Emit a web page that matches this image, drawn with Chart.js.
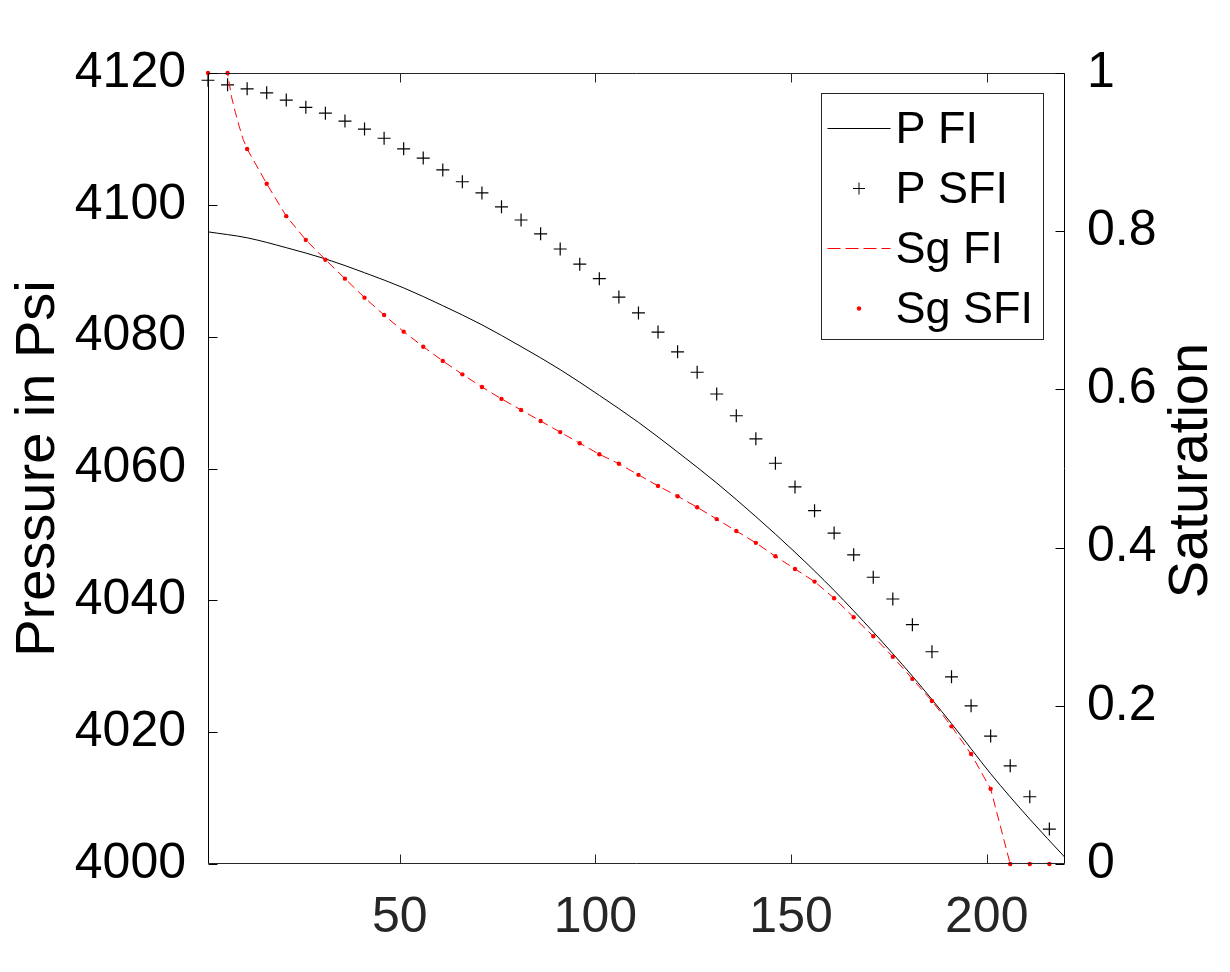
<!DOCTYPE html>
<html>
<head>
<meta charset="utf-8">
<title>Pressure and saturation</title>
<script src="https://cdn.jsdelivr.net/npm/chart.js@4.4.1/dist/chart.umd.min.js"></script>
<style>
html, body { margin: 0; padding: 0; background: #fff; }
#chart { display: block; }
</style>
</head>
<body>
<canvas id="chart" width="1230" height="972"></canvas>
<script>
// SFI results are saved every 5 steps
var sfiX = [1, 6, 11, 16, 21, 26, 31, 36, 41, 46, 51, 56, 61, 66, 71, 76, 81, 86, 91, 96,
	101, 106, 111, 116, 121, 126, 131, 136, 141, 146, 151, 156, 161, 166, 171, 176, 181, 186, 191, 196,
	201, 206, 211, 216];
var pSfi = [4118.9, 4118.2, 4117.6, 4117.0, 4115.9, 4114.8, 4113.9, 4112.7, 4111.5, 4110.1,
	4108.5, 4107.1, 4105.3, 4103.5, 4101.8, 4099.7, 4097.7, 4095.6, 4093.3, 4091.0,
	4088.8, 4086.0, 4083.6, 4080.7, 4077.7, 4074.6, 4071.3, 4068.0, 4064.5, 4060.8,
	4057.2, 4053.6, 4050.2, 4046.9, 4043.5, 4040.2, 4036.3, 4032.2, 4028.4, 4024.0,
	4019.4, 4014.9, 4010.2, 4005.3];
var sgSfi = [1, 1, 0.904, 0.860, 0.819, 0.789, 0.764, 0.740, 0.716, 0.694,
	0.673, 0.654, 0.636, 0.619, 0.603, 0.588, 0.574, 0.560, 0.546, 0.532,
	0.518, 0.506, 0.492, 0.478, 0.465, 0.451, 0.436, 0.421, 0.406, 0.389,
	0.373, 0.357, 0.336, 0.312, 0.288, 0.262, 0.234, 0.206, 0.174, 0.139,
	0.095, 0, 0, 0];

// fully implicit run
var pFiX = [1, 11, 21, 31, 41, 51, 61, 71, 81, 91, 101, 111, 121, 131, 141, 151, 161, 171, 181, 191, 201, 211, 220];
var pFi = [4095.9, 4095.0, 4093.5, 4091.8, 4089.7, 4087.4, 4084.7, 4081.8, 4078.5, 4075.0,
	4071.1, 4067.0, 4062.5, 4057.8, 4052.7, 4047.3, 4041.5, 4035.2, 4028.5, 4021.3,
	4013.7, 4006.8, 4001.0];
var sgFiX = [1, 6, 7, 8, 9, 10, 11, 16, 21, 26, 31, 36, 41, 46, 51, 56, 61, 66, 71, 76, 81, 86, 91, 96,
	101, 106, 111, 116, 121, 126, 131, 136, 141, 146, 151, 156, 161, 166, 171, 176, 181, 186, 191, 196,
	201, 206, 211, 216, 220];
var sgFi = [1, 1, 0.97, 0.95, 0.932, 0.916, 0.904, 0.860, 0.819, 0.789, 0.764, 0.740, 0.716, 0.694,
	0.673, 0.654, 0.636, 0.619, 0.603, 0.588, 0.574, 0.560, 0.546, 0.532,
	0.518, 0.506, 0.492, 0.478, 0.465, 0.451, 0.436, 0.421, 0.406, 0.389,
	0.373, 0.357, 0.336, 0.312, 0.288, 0.262, 0.234, 0.206, 0.174, 0.139,
	0.095, 0, 0, 0, 0];

var xTicks = [50, 100, 150, 200];
var pTicks = [4000, 4020, 4040, 4060, 4080, 4100, 4120];
var satTicks = [0, 0.2, 0.4, 0.6, 0.8, 1];
var legendNames = ['P FI', 'P SFI', 'Sg FI', 'Sg SFI'];

var FONT = "'Liberation Sans', Arial, Helvetica, sans-serif";

function toPoints(xs, ys) {
	var out = [];
	for (var i = 0; i < xs.length; i++) {
		out.push({ x: xs[i], y: ys[i] });
	}
	return out;
}

function fixedTicks(list) {
	return function(scale) {
		scale.ticks = list.map(function(v) { return { value: v }; });
	};
}

// box, inward tick marks, right label and legend like the matlab figure
var figurePlugin = {
	id: 'figure',
	afterDatasetsDraw: function(chart) {
		var ctx = chart.ctx;
		var a = chart.chartArea;
		var sx = chart.scales.x, sp = chart.scales.p, ss = chart.scales.s;
		var L = Math.round(a.left) + 0.5, R = Math.round(a.right) - 0.5;
		var T = Math.round(a.top) + 0.5, B = Math.round(a.bottom) - 0.5;
		var tl = 9;
		ctx.save();
		ctx.lineWidth = 1;

		ctx.strokeStyle = '#262626';
		ctx.beginPath();
		ctx.moveTo(L, T); ctx.lineTo(R, T);
		ctx.moveTo(L, B); ctx.lineTo(R, B);
		xTicks.forEach(function(v) {
			var px = Math.round(sx.getPixelForValue(v)) + 0.5;
			ctx.moveTo(px, B); ctx.lineTo(px, B - tl);
			ctx.moveTo(px, T); ctx.lineTo(px, T + tl);
		});
		ctx.stroke();

		ctx.strokeStyle = '#000';
		ctx.beginPath();
		ctx.moveTo(L, T); ctx.lineTo(L, B);
		ctx.moveTo(R, T); ctx.lineTo(R, B);
		pTicks.forEach(function(v) {
			var py = Math.round(sp.getPixelForValue(v)) + 0.5;
			ctx.moveTo(L, py); ctx.lineTo(L + tl, py);
		});
		satTicks.forEach(function(v) {
			var py = Math.round(ss.getPixelForValue(v)) + 0.5;
			ctx.moveTo(R, py); ctx.lineTo(R - tl, py);
		});
		ctx.stroke();
		ctx.restore();
	},
	afterDraw: function(chart) {
		var ctx = chart.ctx;
		var a = chart.chartArea;
		ctx.save();

		// right axis label reads bottom to top, same as the left one
		ctx.translate(a.right + 127, (a.top + a.bottom) / 2 + 2);
		ctx.rotate(-Math.PI / 2);
		ctx.fillStyle = '#000';
		ctx.font = '56px ' + FONT;
		ctx.textAlign = 'center';
		ctx.textBaseline = 'middle';
		ctx.fillText('Saturation', 0, 0);
		ctx.setTransform(1, 0, 0, 1, 0, 0);

		// legend box
		var bx = Math.round(a.right) - 244 + 0.5;
		var by = Math.round(a.top) + 20 + 0.5;
		var bw = 222, bh = 246;
		ctx.fillStyle = '#fff';
		ctx.fillRect(bx, by, bw, bh);
		ctx.strokeStyle = '#262626';
		ctx.lineWidth = 1;
		ctx.strokeRect(bx, by, bw, bh);

		ctx.font = '45px ' + FONT;
		ctx.textAlign = 'left';
		ctx.textBaseline = 'middle';
		for (var i = 0; i < legendNames.length; i++) {
			var ry = Math.round(by + 34 + i * 60.2) + 0.5;
			var x0 = bx + 6, x1 = bx + 69, xm = (x0 + x1) / 2;
			ctx.beginPath();
			if (i === 0) {
				ctx.strokeStyle = '#000';
				ctx.moveTo(x0, ry); ctx.lineTo(x1, ry);
				ctx.stroke();
			} else if (i === 1) {
				ctx.strokeStyle = '#000';
				ctx.moveTo(xm - 6, ry); ctx.lineTo(xm + 6, ry);
				ctx.moveTo(xm, ry - 6); ctx.lineTo(xm, ry + 6);
				ctx.stroke();
			} else if (i === 2) {
				ctx.strokeStyle = '#ff0000';
				ctx.setLineDash([13, 5]);
				ctx.moveTo(x0, ry); ctx.lineTo(x1, ry);
				ctx.stroke();
				ctx.setLineDash([]);
			} else {
				ctx.fillStyle = '#ff0000';
				ctx.arc(xm, ry, 2.2, 0, Math.PI * 2);
				ctx.fill();
			}
			ctx.fillStyle = '#000';
			ctx.fillText(legendNames[i], bx + 74, ry + 2.5);
		}
		ctx.restore();
	}
};

var ctx = document.getElementById('chart');
var chart = new Chart(ctx, {
	type: 'line',
	data: {
		datasets: [{
			label: 'Sg SFI',
			data: toPoints(sfiX, sgSfi),
			yAxisID: 's',
			showLine: false,
			pointStyle: 'circle',
			pointRadius: 2.2,
			pointBackgroundColor: '#ff0000',
			pointBorderWidth: 0,
			borderColor: '#ff0000',
			clip: 8
		}, {
			label: 'Sg FI',
			data: toPoints(sgFiX, sgFi),
			yAxisID: 's',
			borderColor: '#ff0000',
			borderWidth: 1,
			borderDash: [9, 5],
			pointRadius: 0,
			tension: 0
		}, {
			label: 'P SFI',
			data: toPoints(sfiX, pSfi),
			yAxisID: 'p',
			showLine: false,
			pointStyle: 'cross',
			pointRadius: 6.5,
			pointBorderColor: '#000',
			pointBorderWidth: 1.2,
			borderColor: '#000',
			clip: 10
		}, {
			label: 'P FI',
			data: toPoints(pFiX, pFi),
			yAxisID: 'p',
			borderColor: '#000',
			borderWidth: 1,
			pointRadius: 0,
			cubicInterpolationMode: 'monotone'
		}]
	},
	options: {
		responsive: false,
		animation: false,
		devicePixelRatio: 1,
		events: [],
		layout: { padding: { top: 73, left: 0, right: 0, bottom: 0 } },
		scales: {
			x: {
				type: 'linear',
				min: 1,
				max: 220,
				afterBuildTicks: fixedTicks(xTicks),
				afterFit: function(scale) { scale.height = 108; },
				grid: { display: false },
				border: { display: false },
				ticks: {
					color: '#262626',
					font: { family: FONT, size: 50 },
					padding: 16,
					maxRotation: 0,
					callback: function(v) { return String(v); }
				}
			},
			p: {
				type: 'linear',
				position: 'left',
				min: 4000,
				max: 4120,
				afterBuildTicks: fixedTicks(pTicks),
				afterFit: function(scale) { scale.width = 208; },
				grid: { display: false },
				border: { display: false },
				ticks: {
					color: '#000',
					font: { family: FONT, size: 50 },
					padding: 14,
					callback: function(v) { return String(v); }
				},
				title: {
					display: true,
					text: 'Pressure in Psi',
					color: '#000',
					font: { family: FONT, size: 56 },
					padding: { top: 5, bottom: 0 }
				}
			},
			s: {
				type: 'linear',
				position: 'right',
				min: 0,
				max: 1,
				afterBuildTicks: fixedTicks(satTicks),
				afterFit: function(scale) { scale.width = 165; },
				grid: { display: false },
				border: { display: false },
				ticks: {
					color: '#000',
					font: { family: FONT, size: 50 },
					padding: 14,
					callback: function(v) { return String(+v.toFixed(1)); }
				}
			}
		},
		plugins: {
			legend: { display: false },
			tooltip: { enabled: false }
		}
	},
	plugins: [figurePlugin]
});
</script>
</body>
</html>
